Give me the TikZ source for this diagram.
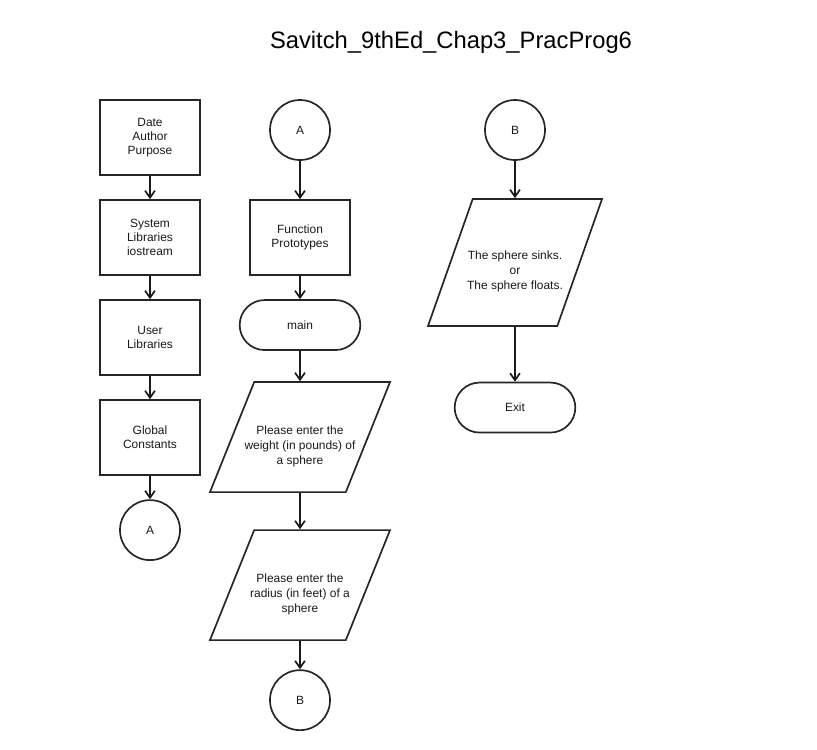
\documentclass[tikz,border=0pt]{standalone}
\usepackage{fontspec}
\setmainfont{Liberation Sans}
\usetikzlibrary{positioning,shapes.geometric,shapes.misc,arrows.meta}

\newcommand{\iotop}{\rule{0pt}{19pt}}
\tikzset{
  flow/.style={draw=black!85, line width=1.2pt, align=center, text=black!90,
    font=\fontsize{8.5}{10}\selectfont},
  block/.style={flow, rectangle, minimum width=2.5cm, minimum height=1.875cm},
  term/.style={flow, rounded rectangle, minimum width=3.25cm, minimum height=1.25cm},
  conn/.style={flow, circle, minimum size=1.5cm},
  io/.style={flow, trapezium, trapezium left angle=68, trapezium right angle=112,
    trapezium stretches body, inner xsep=-0.35cm, inner ysep=0.63cm,
    minimum width=4.5cm, minimum height=2.75cm, font=\fontsize{8.5}{10.6}\selectfont},
}

\begin{document}
\begin{tikzpicture}[x=0.025cm,y=-0.025cm,node distance=2.5cm,on grid,auto,
    >={Straight Barb[length=5pt,width=7pt]}]
   \useasboundingbox (0,0) rectangle (817,750);
   \node (title) at (451,42) {\fontsize{16.9}{20}\selectfont Savitch\_9thEd\_Chap3\_PracProg6};
   % left column
   \node[block] (dap) at (150,137.5) {Date\\Author\\Purpose};
   \node[block] (syslib) [below=of dap] {System\\Libraries\\iostream};
   \node[block] (usrlib) [below=of syslib] {User\\Libraries};
   \node[block] (glob) [below=of usrlib] {Global\\Constants};
   \node[conn] (a_out) [below=2.3125cm of glob] {A};
   % middle column
   \node[conn] (a_in) at (300,130) {A};
   \node[block] (proto) [below=2.6875cm of a_in] {Function\\Prototypes};
   \node[term] (main) [below=2.1875cm of proto] {main};
   \node[io] (weight) [below=2.8cm of main] {\iotop Please enter the\\weight (in pounds) of\\a sphere};
   \node[io] (radius) [below=3.7cm of weight] {\iotop Please enter the\\radius (in feet) of a\\sphere};
   \node[conn] (b_out) [below=2.875cm of radius] {B};
   % right column
   \node[conn] (b_in) at (515,130) {B};
   \node[io, trapezium left angle=70.6, trapezium right angle=109.4, inner ysep=0.85cm,
     minimum width=4.35cm, minimum height=3.125cm] (result) [below=3.3125cm of b_in]
     {\iotop The sphere sinks.\\or\\The sphere floats.};
   \node[term] (exit) [below=3.625cm of result] {Exit};
    \path[->, line width=1.2pt, draw=black!90]
    (dap) edge (syslib)
    (syslib) edge (usrlib)
    (usrlib) edge (glob)
    (glob) edge (a_out)
    (a_in) edge (proto)
    (proto) edge (main)
    (main) edge (weight)
    (weight) edge (radius)
    (radius) edge (b_out)
    (b_in) edge (result)
    (result) edge (exit);
\end{tikzpicture}
\end{document}
